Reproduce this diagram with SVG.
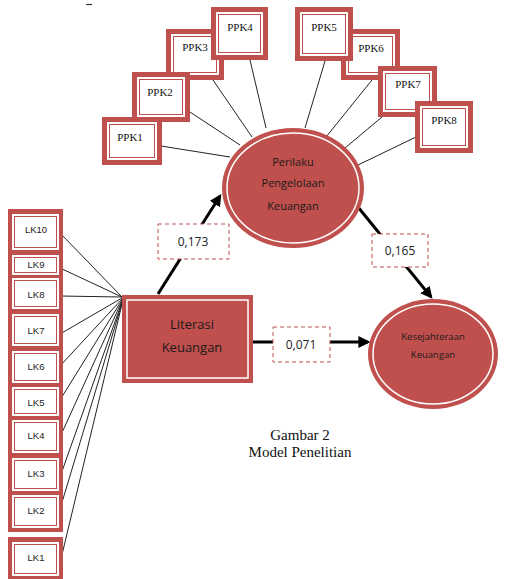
<svg xmlns="http://www.w3.org/2000/svg" width="507" height="579" viewBox="0 0 507 579">
<style>
.ob{fill:#C0504D}
.wi{fill:#fff}
.thin{fill:none;stroke:#C0504D;stroke-width:1}
.ppk{font-family:"Liberation Serif",serif;font-size:11px;fill:#111;text-anchor:middle}
.lk{font-family:"Liberation Sans",sans-serif;font-size:9.5px;fill:#222;text-anchor:middle}
.in{font-family:"Open Sans","Liberation Sans",sans-serif;fill:#1a1a1a;text-anchor:middle}
.wl{fill:none;stroke:#fff;stroke-width:1.5}
.ln{stroke:#222;stroke-width:1;fill:none}
.ar{stroke:#000;stroke-width:3;fill:none;marker-end:url(#ah)}
.lb{fill:#fff;stroke:#C0504D;stroke-width:1;stroke-dasharray:4,3}
.num{font-family:"Open Sans","Liberation Sans",sans-serif;font-size:12px;fill:#222;text-anchor:middle}
.cap{font-family:"Liberation Serif",serif;font-size:15px;fill:#111;text-anchor:middle}
</style>
<defs>
<marker id="ah" markerWidth="4" markerHeight="4" refX="3.2" refY="2" orient="auto" markerUnits="strokeWidth">
<path d="M0,0 L4,2 L0,4 Z" fill="#000"/>
</marker>
</defs>
<line x1="86" y1="4.5" x2="92" y2="4.5" stroke="#333" stroke-width="1.2"/>
<g id="connectors">
<line class="ln" x1="161" y1="146" x2="230" y2="157"/>
<line class="ln" x1="190" y1="112" x2="240" y2="145"/>
<line class="ln" x1="213" y1="80" x2="252" y2="137"/>
<line class="ln" x1="250" y1="60" x2="266" y2="128"/>
<line class="ln" x1="325" y1="61" x2="305" y2="128"/>
<line class="ln" x1="372" y1="80" x2="326" y2="137"/>
<line class="ln" x1="382" y1="117" x2="345" y2="148"/>
<line class="ln" x1="416" y1="137" x2="358" y2="165"/>
<line class="ln" x1="60" y1="233" x2="122" y2="297"/>
<line class="ln" x1="60" y1="268" x2="122" y2="297"/>
<line class="ln" x1="60" y1="296" x2="122" y2="297"/>
<line class="ln" x1="60" y1="334" x2="122" y2="298"/>
<line class="ln" x1="60" y1="366" x2="122" y2="299"/>
<line class="ln" x1="60" y1="400" x2="122" y2="300"/>
<line class="ln" x1="60" y1="437" x2="122" y2="301"/>
<line class="ln" x1="60" y1="477" x2="122" y2="302"/>
<line class="ln" x1="60" y1="509" x2="122" y2="303"/>
<line class="ln" x1="60" y1="563" x2="122" y2="304"/>
<line class="ar" x1="158" y1="294" x2="220" y2="196"/>
<line class="ar" x1="358" y1="207" x2="431" y2="297"/>
<line class="ar" x1="253" y1="342" x2="368" y2="342"/>
</g>
<g id="PPK3"><rect class="ob" x="166" y="29" width="58" height="51"/><rect class="wi" x="171" y="34" width="48" height="41"/><rect class="thin" x="173.5" y="36.5" width="43" height="36"/><text class="ppk" x="195" y="51">PPK3</text></g>
<g id="PPK2"><rect class="ob" x="132" y="72" width="58" height="50"/><rect class="wi" x="137" y="77" width="48" height="40"/><rect class="thin" x="139.5" y="79.5" width="43" height="35"/><text class="ppk" x="160" y="96">PPK2</text></g>
<g id="PPK1"><rect class="ob" x="102" y="117" width="60" height="48"/><rect class="wi" x="107" y="122" width="50" height="38"/><rect class="thin" x="109.5" y="124.5" width="45" height="33"/><text class="ppk" x="130" y="141">PPK1</text></g>
<g id="PPK4"><rect class="ob" x="211" y="7" width="57" height="53"/><rect class="wi" x="216" y="12" width="47" height="43"/><rect class="thin" x="218.5" y="14.5" width="42" height="38"/><text class="ppk" x="240" y="31">PPK4</text></g>
<g id="PPK6"><rect class="ob" x="341" y="29" width="59" height="51"/><rect class="wi" x="346" y="34" width="49" height="41"/><rect class="thin" x="348.5" y="36.5" width="44" height="36"/><text class="ppk" x="371" y="52">PPK6</text></g>
<g id="PPK5"><rect class="ob" x="295" y="7" width="58" height="54"/><rect class="wi" x="300" y="12" width="48" height="44"/><rect class="thin" x="302.5" y="14.5" width="43" height="39"/><text class="ppk" x="324" y="31">PPK5</text></g>
<g id="PPK7"><rect class="ob" x="378" y="66" width="59" height="51"/><rect class="wi" x="383" y="71" width="49" height="41"/><rect class="thin" x="385.5" y="73.5" width="44" height="36"/><text class="ppk" x="408" y="88">PPK7</text></g>
<g id="PPK8"><rect class="ob" x="415" y="101" width="58" height="52"/><rect class="wi" x="420" y="106" width="48" height="42"/><rect class="thin" x="422.5" y="108.5" width="43" height="37"/><text class="ppk" x="444" y="124">PPK8</text></g>
<g id="Perilaku">
<ellipse class="ob" cx="293" cy="188" rx="71" ry="60"/>
<ellipse class="wl" cx="293" cy="188" rx="66" ry="55"/>
<text class="in" font-size="11" x="293" y="166">Perilaku</text>
<text class="in" font-size="11" x="293" y="187">Pengelolaan</text>
<text class="in" font-size="11" x="293" y="210">Keuangan</text>
</g>
<g id="Kesejahteraan">
<ellipse class="ob" cx="433" cy="354" rx="65" ry="55"/>
<ellipse class="wl" cx="433" cy="354" rx="60" ry="50"/>
<text class="in" font-size="9.5" x="433" y="340">Kesejahteraan</text>
<text class="in" font-size="9.5" x="433" y="358">Keuangan</text>
</g>
<g id="Literasi">
<rect class="ob" x="122" y="295" width="131" height="88"/>
<rect class="wl" x="127" y="300" width="121" height="78"/>
<text class="in" font-size="13" x="192" y="329">Literasi</text>
<text class="in" font-size="13" x="192" y="352">Keuangan</text>
</g>
<rect class="ob" x="8" y="209" width="55" height="323"/>
<rect class="ob" x="8" y="537" width="55" height="42"/>
<g id="LK10"><rect class="wi" x="12" y="214" width="47" height="36"/><rect class="thin" x="14.5" y="216.5" width="42" height="31"/><text class="lk" x="36" y="233">LK10</text></g>
<g id="LK9"><rect class="wi" x="12" y="255" width="47" height="20"/><rect class="thin" x="14.5" y="257.5" width="42" height="15"/><text class="lk" x="36" y="268">LK9</text></g>
<g id="LK8"><rect class="wi" x="12" y="278" width="47" height="31"/><rect class="thin" x="14.5" y="280.5" width="42" height="26"/><text class="lk" x="36" y="298">LK8</text></g>
<g id="LK7"><rect class="wi" x="12" y="314" width="47" height="32"/><rect class="thin" x="14.5" y="316.5" width="42" height="27"/><text class="lk" x="36" y="334">LK7</text></g>
<g id="LK6"><rect class="wi" x="12" y="351" width="47" height="32"/><rect class="thin" x="14.5" y="353.5" width="42" height="27"/><text class="lk" x="36" y="370">LK6</text></g>
<g id="LK5"><rect class="wi" x="12" y="387" width="47" height="29"/><rect class="thin" x="14.5" y="389.5" width="42" height="24"/><text class="lk" x="36" y="406">LK5</text></g>
<g id="LK4"><rect class="wi" x="12" y="420" width="47" height="33"/><rect class="thin" x="14.5" y="422.5" width="42" height="28"/><text class="lk" x="36" y="439">LK4</text></g>
<g id="LK3"><rect class="wi" x="12" y="458" width="47" height="33"/><rect class="thin" x="14.5" y="460.5" width="42" height="28"/><text class="lk" x="36" y="477">LK3</text></g>
<g id="LK2"><rect class="wi" x="12" y="495" width="47" height="33"/><rect class="thin" x="14.5" y="497.5" width="42" height="28"/><text class="lk" x="36" y="514">LK2</text></g>
<g id="LK1"><rect class="wi" x="12" y="542" width="47" height="34"/><rect class="thin" x="14.5" y="544.5" width="42" height="29"/><text class="lk" x="36" y="561">LK1</text></g>
<g id="lbl173"><rect class="lb" x="158" y="224" width="71" height="35"/><text class="num" x="193" y="246">0,173</text></g>
<g id="lbl165"><rect class="lb" x="372" y="234" width="56" height="33"/><text class="num" x="400" y="255">0,165</text></g>
<g id="lbl071"><rect class="lb" x="273" y="327" width="57" height="35"/><text class="num" x="301" y="349">0,071</text></g>
<g id="caption">
<text class="cap" x="300" y="440">Gambar 2</text>
<text class="cap" x="300" y="457">Model Penelitian</text>
</g>
</svg>
